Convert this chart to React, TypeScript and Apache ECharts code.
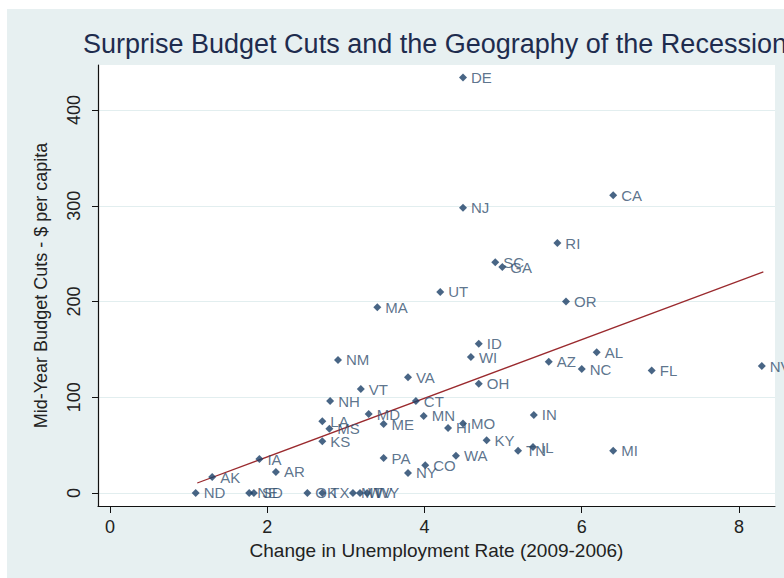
import React, { useEffect, useRef } from "react";
import * as echarts from "echarts";

const states = ["DE","CA","NJ","RI","SC","GA","UT","OR","MA","ID","WI","AZ","AL","NC","FL","OH","IN","MN","NV","NM","VA","VT","NH","CT","MD","ME","LA","MS","HI","MO","KS","KY","TN","IL","MI","WA","PA","CO","NY","IA","AR","AK","ND","NE","SD","OK","TX","MT","WV","WY"];
const unempChange = [4.49,6.40,4.49,5.69,4.90,4.99,4.20,5.80,3.40,4.69,4.59,5.58,6.19,6.00,6.89,4.69,5.39,3.99,8.29,2.90,3.79,3.19,2.80,3.89,3.29,3.48,2.70,2.79,4.30,4.49,2.70,4.79,5.19,5.38,6.40,4.40,3.48,4.01,3.79,1.90,2.11,1.30,1.09,1.77,1.83,2.51,2.70,3.09,3.18,3.27];
const budgetCuts = [434,311,298,261,241,236,210,200,194,156,142,137,147,129.5,128,114,81.5,80.5,132.6,139,121,108.6,96,96,82.5,72,75,67,68,72.6,54,55,44,48,44,39,36.5,29,21,35.5,22,16.7,0,0,0,0,0,0,0,0];
const fitX = [1.11, 8.31];
const fitY = [10.4, 231];
const xTicks = [0, 2, 4, 6, 8];
const yTicks = [0, 100, 200, 300, 400];

const FONT = "Liberation Sans, Arial, sans-serif";

export default function App() {
  const ref = useRef<HTMLDivElement>(null);
  useEffect(() => {
    if (!ref.current) return;
    const chart = echarts.init(ref.current, undefined, { renderer: "svg" });
    const pts = states.map((s, i) => ({ name: s, value: [unempChange[i], budgetCuts[i]] }));
    chart.setOption({
      animation: false,
      backgroundColor: "#e7f0f1",
      textStyle: { fontFamily: FONT },
      title: {
        text: "Surprise Budget Cuts and the Geography of the Recession",
        left: 76,
        top: 21,
        padding: 0,
        textStyle: { fontFamily: FONT, fontSize: 27, fontWeight: "normal", color: "#1e2c4e" },
      },
      grid: { left: 91, top: 56, width: 677, height: 441, show: true, backgroundColor: "#ffffff", borderWidth: 0 },
      xAxis: {
        type: "value",
        min: -0.1526,
        max: 8.458,
        name: "Change in Unemployment Rate (2009-2006)",
        nameLocation: "middle",
        nameGap: 34,
        nameTextStyle: { fontFamily: FONT, fontSize: 19, color: "#222222" },
        axisLine: { show: true, onZero: false, lineStyle: { color: "#111111", width: 1.2 } },
        axisTick: { show: true, customValues: xTicks, length: 7, lineStyle: { color: "#111111" } },
        axisLabel: { customValues: xTicks, fontFamily: FONT, fontSize: 18, color: "#222222", margin: 12 },
        splitLine: { show: false },
      },
      yAxis: {
        type: "value",
        min: -13.58,
        max: 447,
        name: "Mid-Year Budget Cuts - $ per capita",
        nameLocation: "middle",
        nameGap: 48,
        nameTextStyle: { fontFamily: FONT, fontSize: 18, color: "#222222" },
        axisLine: { show: true, onZero: false, lineStyle: { color: "#111111", width: 1.2 } },
        axisTick: { show: true, customValues: yTicks, length: 6, lineStyle: { color: "#111111" } },
        axisLabel: { customValues: yTicks, rotate: 90, fontFamily: FONT, fontSize: 18, color: "#222222", margin: 15 },
        splitLine: { show: true, lineStyle: { color: "#e2eeef", width: 1 } },
      },
      series: [
        {
          type: "line",
          data: fitX.map((x, i) => [x, fitY[i]]),
          symbol: "none",
          lineStyle: { color: "#9a2a2e", width: 1.2 },
          z: 1,
        },
        {
          type: "scatter",
          data: pts,
          symbol: "diamond",
          symbolSize: 8,
          itemStyle: { color: "#1a3f66" },
          label: {
            show: true,
            position: "right",
            distance: 4,
            formatter: (p: any) => p.name,
            fontFamily: FONT,
            fontSize: 15,
            color: "#33506f",
          },
          z: 3,
        },
      ],
    });
    return () => chart.dispose();
  }, []);
  return (
    <div
      ref={ref}
      style={{ position: "fixed", left: 7, top: 9, width: 777, height: 569 }}
    />
  );
}
